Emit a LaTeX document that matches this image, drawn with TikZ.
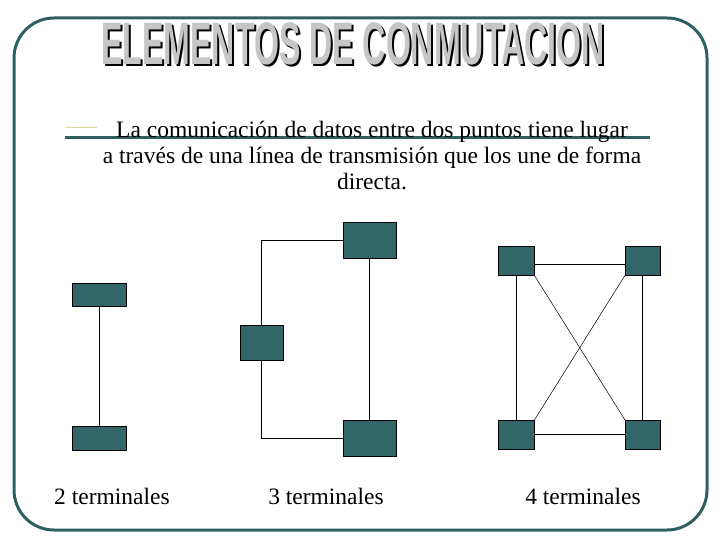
\documentclass[tikz,border=0pt]{standalone}
\usepackage{fontspec}
\setmainfont{Liberation Serif}
\newfontfamily\titlefont{Liberation Sans}
\definecolor{teal}{HTML}{336666}
\definecolor{frame}{HTML}{2F5F5F}
\begin{document}
\begin{tikzpicture}[x=1pt,y=-1pt,
 term/.style={draw=black,fill=teal,inner sep=0pt,anchor=north west},
 conn/.style={draw=black,line width=0.5pt},
 lbl/.style={font=\fontsize{23.5}{27}\selectfont,inner sep=0pt}]
\useasboundingbox (0,0) rectangle (720,540);
\draw[frame,line width=3pt,rounded corners=40pt] (14,18) rectangle (707,530);
\node[inner sep=0pt] (title) at (355,46) {\titlefont\bfseries\fontsize{60}{60}\selectfont\addfontfeature{FakeStretch=0.535}\textcolor{black}{ELEMENTOS DE CONMUTACION}};
\node[inner sep=0pt] (titlef) at (353,44) {\titlefont\bfseries\fontsize{60}{60}\selectfont\addfontfeature{FakeStretch=0.535}\textcolor{gray!45}{ELEMENTOS DE CONMUTACION}};
\draw[frame,line width=3pt] (65,138) -- (650,138);
\draw[yellow!50!gray!60,line width=0.6pt] (65,127) -- (97,127);
\node[lbl,align=center] (txt) at (372,155) {La comunicación de datos entre dos puntos tiene lugar\\[-1pt] a través de una línea de transmisión que los une de forma\\[-1pt] directa.};
% group 1
\node[term,minimum width=54pt,minimum height=23pt] (a1) at (72,283) {};
\node[term,minimum width=54pt,minimum height=24pt] (a2) at (72,426) {};
\draw[conn] (a1) -- (a2);
% group 2
\node[term,minimum width=53pt,minimum height=36pt] (b1) at (343,222) {};
\node[term,minimum width=43pt,minimum height=35pt] (b2) at (240,325) {};
\node[term,minimum width=53pt,minimum height=36pt] (b3) at (343,420) {};
\draw[conn] (b2.north) |- (b1.west |- 0,240);
\draw[conn] (b2.south) |- (b3.west |- 0,438);
\draw[conn] (b1.south) -- (b3.north);
% group 3
\node[term,minimum width=36pt,minimum height=29pt] (c1) at (498,246) {};
\node[term,minimum width=35pt,minimum height=29pt] (c2) at (625,246) {};
\node[term,minimum width=36pt,minimum height=29pt] (c3) at (498,420) {};
\node[term,minimum width=35pt,minimum height=29pt] (c4) at (625,420) {};
\draw[conn] (c1.east |- 0,264) -- (c2.west |- 0,264);
\draw[conn] (c3.east |- 0,434) -- (c4.west |- 0,434);
\draw[conn] (c1) -- (c3);
\draw[conn] (c2) -- (c4);
\draw[conn] (c1.south east) -- (c4.north west);
\draw[conn] (c2.south west) -- (c3.north east);
\node[lbl] (l1) at (112,496) {2 terminales};
\node[lbl] (l2) at (326,496) {3 terminales};
\node[lbl] (l3) at (583,496) {4 terminales};
\end{tikzpicture}
\end{document}
